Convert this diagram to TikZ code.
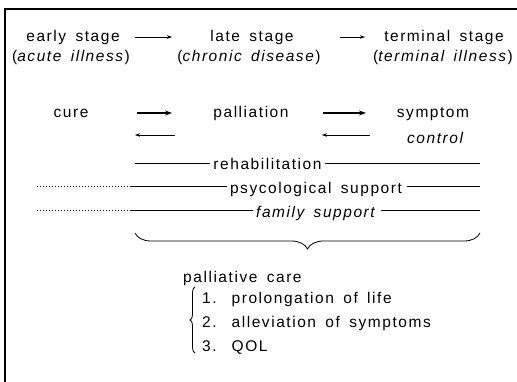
\documentclass[tikz,border=0pt]{standalone}
\usepackage{fontspec}
\setmainfont{Liberation Sans}[LetterSpace=10,WordSpace=1.6]
\usetikzlibrary{arrows.meta,decorations.pathreplacing}
\begin{document}
\begin{tikzpicture}[x=1pt,y=-1pt,
  lbl/.style={inner sep=0pt,anchor=base,font=\fontsize{15.5}{18}\selectfont},
  lblw/.style={lbl,anchor=base west},
  thinarrow/.style={-{Stealth[length=5pt,width=3.5pt]},line width=0.6pt},
  boldarrow/.style={-{Stealth[length=7pt,width=5pt]},line width=1.3pt},
  supportline/.style={line width=0.7pt},
  dotline/.style={line width=0.8pt,dash pattern=on 1pt off 2pt},
  frame/.style={line width=1.2pt},
  bracestyle/.style={decorate,line width=0.8pt}]
\useasboundingbox (0,0) rectangle (517,382);
\draw[frame] (517,9) -- (5,9) -- (5,382);

% stages of illness
\node[lbl] (early)   at (73,42)  {early stage};
\node[lbl] (acute)   at (71,62)  {(\textit{acute illness})};
\node[lbl] (late)    at (252,42) {late stage};
\node[lbl] (chronic) at (249,62) {(\textit{chronic disease})};
\node[lbl] (term)    at (444,42) {terminal stage};
\node[lbl] (termill) at (443,62) {(\textit{terminal illness})};
\coordinate (a1s) at (135,37); \coordinate (a1e) at (172,37);
\coordinate (a2s) at (340,37); \coordinate (a2e) at (365,37);
\draw[thinarrow] (a1s) -- (a1e);
\draw[thinarrow] (a2s) -- (a2e);

% aims of treatment
\node[lbl] (cure)       at (71,118)  {cure};
\node[lbl] (palliation) at (251,118) {palliation};
\node[lbl] (symptom)    at (433,118) {symptom};
\node[lbl] (control)    at (436,144) {\textit{control}};
\coordinate (b1s) at (137,113); \coordinate (b1e) at (172,113);
\coordinate (b2s) at (323,113); \coordinate (b2e) at (366,113);
\coordinate (c1s) at (175,135); \coordinate (c1e) at (135,135);
\coordinate (c2s) at (370,135); \coordinate (c2e) at (322,135);
\draw[boldarrow] (b1s) -- (b1e);
\draw[boldarrow] (b2s) -- (b2e);
\draw[thinarrow] (c1s) -- (c1e);
\draw[thinarrow] (c2s) -- (c2e);

% supporting care
\node[lbl] (rehab)  at (267.5,170) {rehabilitation};
\node[lbl] (psych)  at (316,194)   {psycological support};
\node[lbl] (family) at (316.5,218) {\textit{family support}};
\coordinate (r1) at (135,163); \coordinate (r2) at (210,163);
\coordinate (r3) at (325,163); \coordinate (r4) at (480,163);
\draw[supportline] (r1) -- (r2) (r3) -- (r4);
\coordinate (p0) at (37,186); \coordinate (p1) at (130,186); \coordinate (p2) at (227,186);
\coordinate (p3) at (407,186); \coordinate (p4) at (480,186);
\draw[dotline] (p0) -- (p1);
\draw[supportline] (p1) -- (p2) (p3) -- (p4);
\coordinate (f0) at (37,210); \coordinate (f1) at (130,210); \coordinate (f2) at (253,210);
\coordinate (f3) at (381,210); \coordinate (f4) at (480,210);
\draw[dotline] (f0) -- (f1);
\draw[supportline] (f1) -- (f2) (f3) -- (f4);

% palliative care
\coordinate (bl) at (135,233); \coordinate (br) at (480,233);
\draw[bracestyle,decoration={brace,mirror,amplitude=16pt}] (bl) -- (br);
\node[lblw] (pc) at (183,283) {palliative care};
\node[lblw] (i1) at (202,304) {1.\hspace{15pt}prolongation of life};
\node[lblw] (i2) at (202,327) {2.\hspace{15pt}alleviation of symptoms};
\node[lblw] (i3) at (202,351) {3.\hspace{15pt}QOL};
\coordinate (lb1) at (195,353); \coordinate (lb2) at (195,287);
\draw[bracestyle,decoration={brace,amplitude=5pt}] (lb1) -- (lb2);
\end{tikzpicture}
\end{document}
